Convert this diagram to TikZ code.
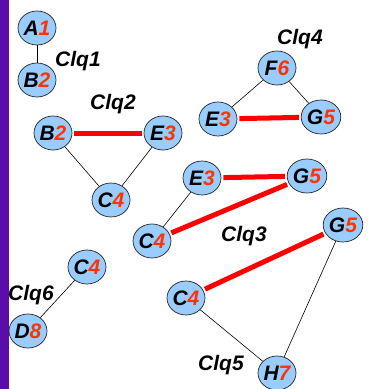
\documentclass[tikz,border=0pt]{standalone}
\usepackage{fontspec}
\setmainfont{Liberation Sans}
\usetikzlibrary{shapes.geometric}
\definecolor{vbar}{HTML}{5A0DA8}
\definecolor{vfill}{HTML}{99CCFF}
\definecolor{vnum}{HTML}{FF3300}
\newcommand{\vx}[2]{#1\textcolor{vnum}{#2}}
\tikzset{
  vert/.style={ellipse, draw=black!85, line width=0.7pt, fill=vfill,
    minimum width=38pt, minimum height=34pt, inner sep=0pt,
    font=\fontsize{21}{21}\selectfont\bfseries\itshape},
  clq/.style={font=\fontsize{21}{21}\selectfont\bfseries\itshape},
  thin/.style={draw=black, line width=0.6pt},
  sep/.style={draw=red, line width=5pt, shorten <=2pt, shorten >=2pt}
}
\begin{document}
\begin{tikzpicture}[x=1pt, y=-1pt]
\useasboundingbox (0,0) rectangle (370,389);
\fill[white] (0,0) rectangle (370,389);
\fill[vbar] (0,0) rectangle (8.5,389);

% Clq1
\node[vert] (a1) at (37,28) {\vx{A}{1}};
\node[vert] (b2a) at (37,80) {\vx{B}{2}};
\node[clq] (l1) at (78,61) {Clq1};
% Clq2
\node[vert] (b2b) at (53,133) {\vx{B}{2}};
\node[vert] (e3a) at (163,133) {\vx{E}{3}};
\node[vert] (c4a) at (111,200) {\vx{C}{4}};
\node[clq] (l2) at (113,104) {Clq2};
% Clq4
\node[vert] (f6) at (277,68) {\vx{F}{6}};
\node[vert] (e3b) at (218,119) {\vx{E}{3}};
\node[vert] (g5a) at (321,117) {\vx{G}{5}};
\node[clq] (l4) at (300,39) {Clq4};
% Clq3
\node[vert] (e3c) at (202,178) {\vx{E}{3}};
\node[vert] (g5b) at (307,176) {\vx{G}{5}};
\node[vert] (c4b) at (152,241) {\vx{C}{4}};
\node[clq] (l3) at (244,236) {Clq3};
% Clq5
\node[vert] (g5c) at (343,225) {\vx{G}{5}};
\node[vert] (c4c) at (186,298) {\vx{C}{4}};
\node[vert] (h7) at (277,373) {\vx{H}{7}};
\node[clq] (l5) at (221,365) {Clq5};
% Clq6
\node[vert] (c4d) at (87,267) {\vx{C}{4}};
\node[vert] (d8) at (28,331) {\vx{D}{8}};
\node[clq] (l6) at (31,295) {Clq6};

% edges
\draw[thin] (a1) -- (b2a);
\draw[sep] (b2b) -- (e3a);
\draw[thin] (b2b) -- (c4a);
\draw[thin] (e3a) -- (c4a);
\draw[thin] (f6) -- (e3b);
\draw[thin] (f6) -- (g5a);
\draw[sep] (e3b) -- (g5a);
\draw[sep] (e3c) -- (g5b);
\draw[sep] (c4b) -- (g5b);
\draw[thin] (e3c) -- (c4b);
\draw[sep] (c4c) -- (g5c);
\draw[thin] (c4c) -- (h7);
\draw[thin] (g5c) -- (h7);
\draw[thin] (c4d) -- (d8);
\end{tikzpicture}
\end{document}
